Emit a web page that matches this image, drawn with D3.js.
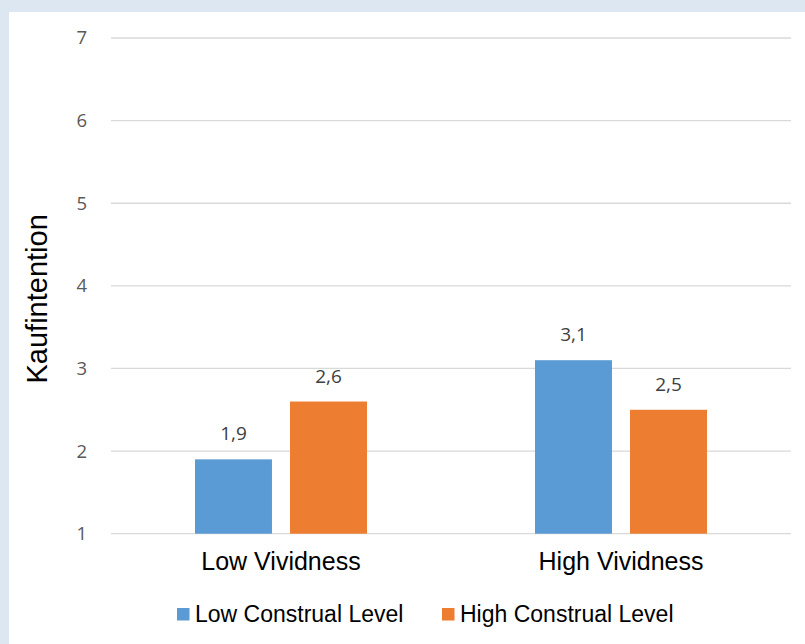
<!DOCTYPE html>
<html>
<head>
<meta charset="utf-8">
<script src="https://cdn.jsdelivr.net/npm/d3@7"></script>
<style>
  html, body { margin: 0; padding: 0; background: #dde7f2; }
  svg { display: block; }
</style>
</head>
<body>
<svg id="chart" width="805" height="644"></svg>
<script>
// Purchase intention by vividness and construal level
const categories = ["Low Vividness", "High Vividness"];
const seriesNames = ["Low Construal Level", "High Construal Level"];
const lowConstrual = [1.9, 3.1];
const highConstrual = [2.6, 2.5];
const seriesColors = ["#5B9BD5", "#ED7D31"];
const yTicks = [1, 2, 3, 4, 5, 6, 7];
const yTitle = "Kaufintention";

const svg = d3.select("#chart");
const W = 805, H = 644;

// white chart panel
svg.append("rect").attr("x", 9).attr("y", 12).attr("width", W - 9).attr("height", H - 12).attr("fill", "#ffffff");

const margin = { left: 111, right: 14, top: 38, bottom: 111 };
const x0 = d3.scaleBand().domain(categories).range([margin.left, W - margin.right]).paddingInner(0).paddingOuter(0);
const x1 = d3.scaleBand().domain(seriesNames).range([0, 172]).paddingInner(0.19);
const y = d3.scaleLinear().domain([1, 7]).range([H - margin.bottom + 0.7, margin.top]);

// gridlines
svg.append("g").selectAll("line").data(yTicks).join("line")
  .attr("x1", margin.left).attr("x2", W - margin.right)
  .attr("y1", d => y(d)).attr("y2", d => y(d))
  .attr("stroke", "#d9d9d9").attr("stroke-width", 1.3);

// y tick labels
const yAxis = d3.axisLeft(y).tickValues(yTicks).tickSize(0).tickPadding(24).tickFormat(d3.format("d"));
const gy = svg.append("g").attr("transform", `translate(${margin.left},0)`).call(yAxis);
gy.select(".domain").remove();
gy.selectAll("text").attr("font-family", "'Open Sans', sans-serif").attr("font-size", 18.5).attr("fill", "#595959");

// y title
svg.append("text")
  .attr("transform", `translate(47,${(y(1) + y(7)) / 2 + 13}) rotate(-90)`)
  .attr("text-anchor", "middle")
  .attr("font-family", "'Liberation Sans', Arial, sans-serif")
  .attr("font-size", 29).attr("fill", "#000")
  .text(yTitle);

// bars
const rows = categories.map((c, i) => ({ cat: c, vals: [lowConstrual[i], highConstrual[i]] }));
const groups = svg.append("g").selectAll("g").data(rows).join("g")
  .attr("transform", d => `translate(${x0(d.cat) + x0.bandwidth() / 2 - 86},0)`);

groups.selectAll("rect").data(d => d.vals.map((v, j) => ({ s: seriesNames[j], v, j }))).join("rect")
  .attr("x", d => x1(d.s)).attr("width", x1.bandwidth())
  .attr("y", d => y(d.v)).attr("height", d => y(1) - y(d.v))
  .attr("fill", d => seriesColors[d.j]);

const fmt = v => d3.format(".1f")(v).replace(".", ",");
groups.selectAll("text").data(d => d.vals.map((v, j) => ({ s: seriesNames[j], v, j }))).join("text")
  .attr("x", d => x1(d.s) + x1.bandwidth() / 2)
  .attr("y", d => y(d.v) - 19)
  .attr("text-anchor", "middle")
  .attr("font-family", "'Open Sans', sans-serif").attr("font-size", 19).attr("fill", "#404040")
  .text(d => fmt(d.v));

// category labels
svg.append("g").selectAll("text").data(categories).join("text")
  .attr("x", d => x0(d) + x0.bandwidth() / 2)
  .attr("y", 570)
  .attr("text-anchor", "middle")
  .attr("font-family", "'Liberation Sans', Arial, sans-serif")
  .attr("font-size", 25).attr("fill", "#000")
  .text(d => d);

// legend
const legendX = [177, 442];
const lg = svg.append("g").selectAll("g").data(seriesNames).join("g")
  .attr("transform", (d, i) => `translate(${legendX[i]},0)`);
lg.append("rect").attr("x", 0).attr("y", 608).attr("width", 12.5).attr("height", 12.5)
  .attr("fill", (d, i) => seriesColors[i]);
lg.append("text").attr("x", 18).attr("y", 622)
  .attr("font-family", "'Liberation Sans', Arial, sans-serif")
  .attr("font-size", 23).attr("fill", "#000")
  .text(d => d);
</script>
</body>
</html>
